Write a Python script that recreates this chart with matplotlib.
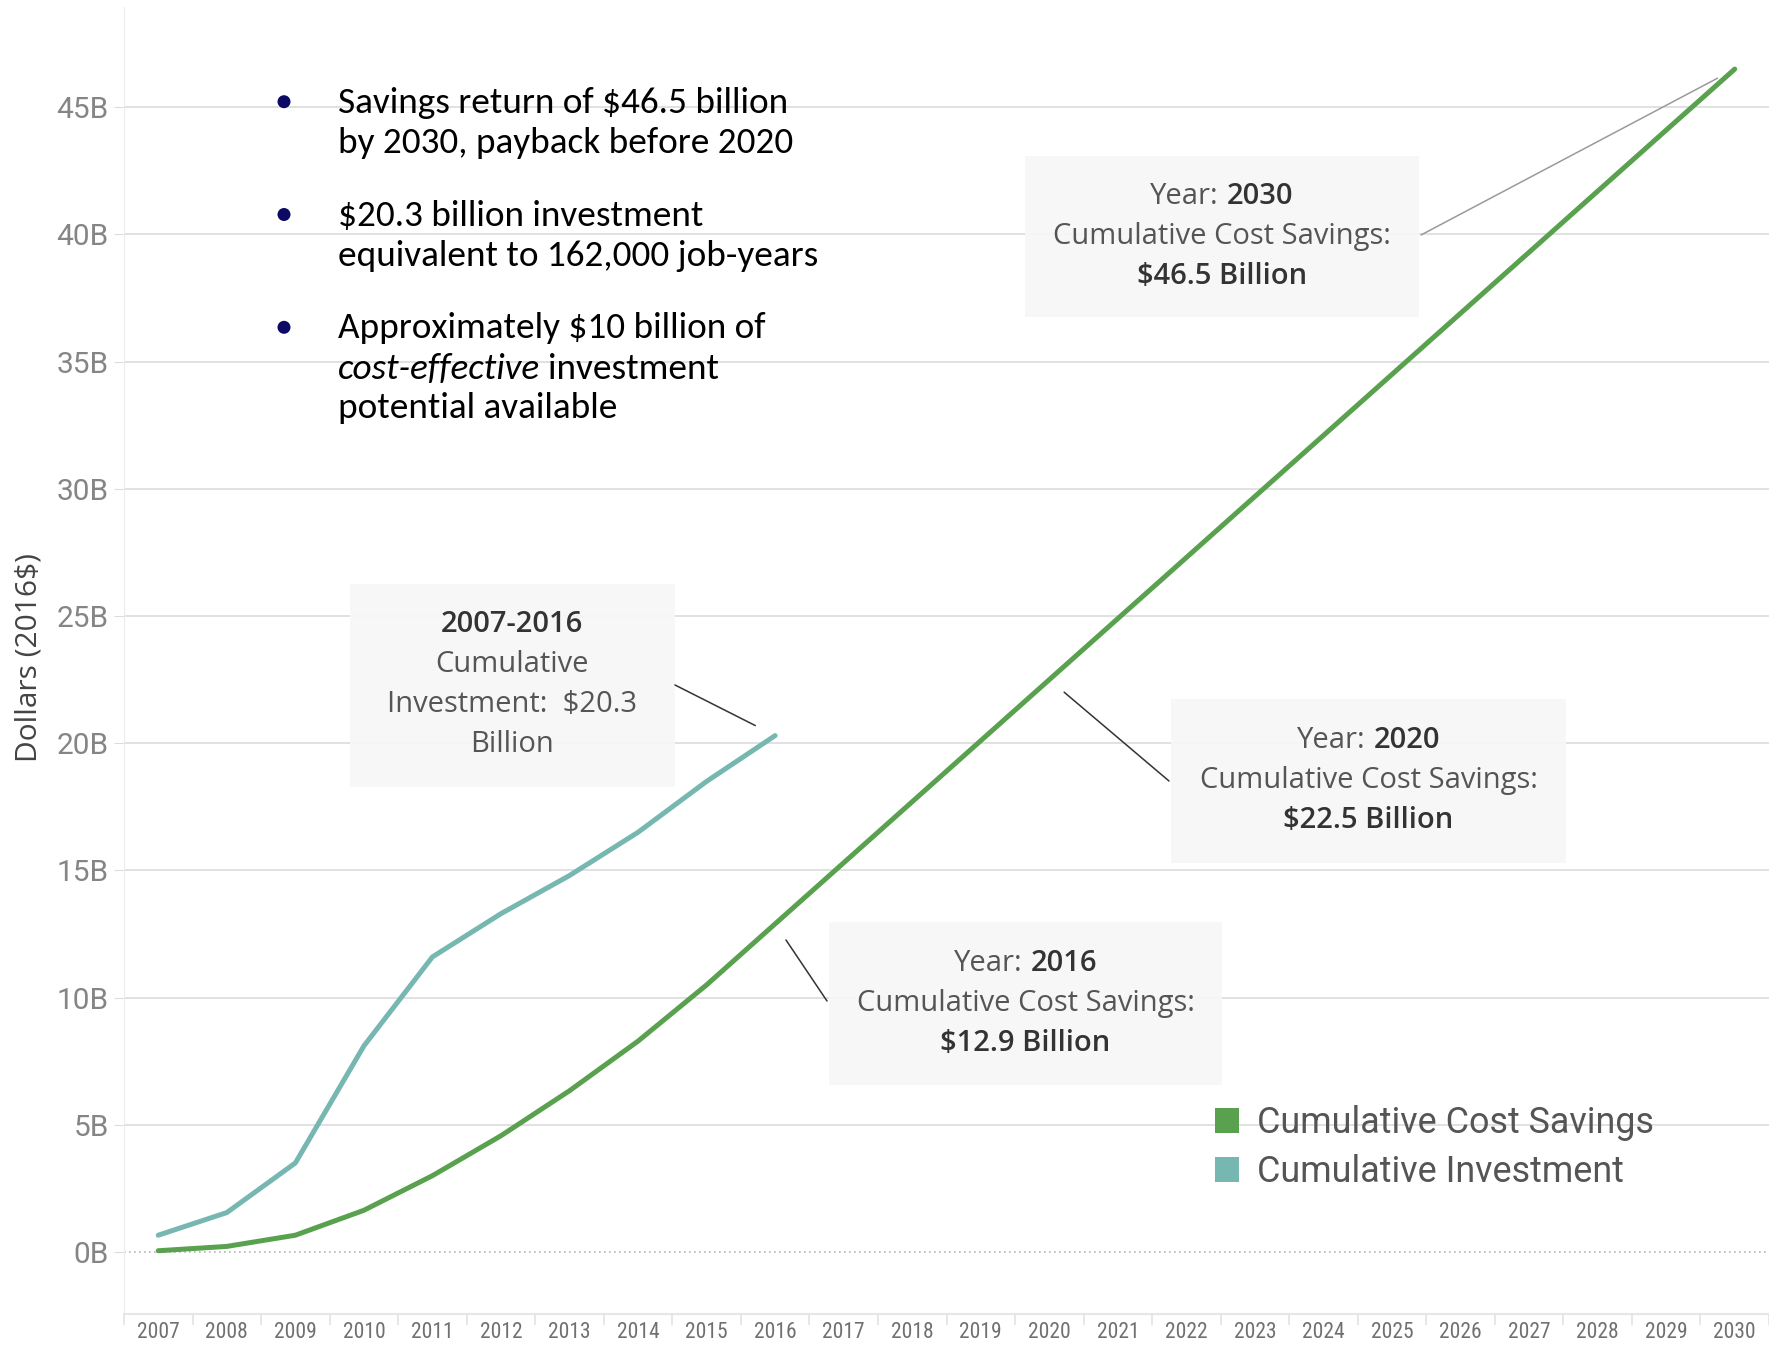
import matplotlib
matplotlib.use("Agg")
import matplotlib.pyplot as plt
from matplotlib.patches import Rectangle, Patch, Circle
from matplotlib.transforms import IdentityTransform

W, H = 1769, 1347
DPI = 100

years = list(range(2007, 2031))
cost_savings = [0.05, 0.22, 0.66, 1.64, 3.0, 4.57, 6.34, 8.29, 10.5, 12.9,
                15.3, 17.7, 20.1, 22.5, 24.9, 27.3, 29.7, 32.1, 34.5, 36.9,
                39.3, 41.7, 44.1, 46.5]
invest_years = list(range(2007, 2017))
investment = [0.66, 1.55, 3.5, 8.1, 11.6, 13.3, 14.8, 16.5, 18.5, 20.3]

y_ticks = list(range(0, 50, 5))
y_tick_labels = [f"{v}B" for v in y_ticks]
series_names = ["Cumulative Cost Savings", "Cumulative Investment"]
callout_years = [2016, 2020, 2030]

bullets = [
    ["Savings return of $46.5 billion", "by 2030, payback before 2020"],
    ["$20.3 billion investment", "equivalent to 162,000 job-years"],
    ["Approximately $10 billion of", None, "potential available"],
]

GREEN = "#59a14f"
TEAL = "#76b7b2"
BOX = ["Open Sans", "Noto Sans", "DejaVu Sans"]
NARROW = ["Roboto Condensed", "DejaVu Sans"]
PLAIN = ["Roboto", "DejaVu Sans"]
BODY = ["Carlito", "Lato", "DejaVu Sans"]


def fx(x):
    return x / W


def fy(y):
    return 1 - y / H


fig = plt.figure(figsize=(W / DPI, H / DPI), dpi=DPI)
ax = fig.add_axes([fx(124), fy(1314), (W - 124) / W, (1314 - 7) / H])

ax.plot(years, cost_savings, color=GREEN, lw=3.6, solid_capstyle="round", zorder=3)
ax.plot(invest_years, investment, color=TEAL, lw=3.6, solid_capstyle="round", zorder=3)

ax.set_xlim(2006.506, 2030.405)
ax.set_ylim(-2.437, 48.94)

for v in y_ticks[1:]:
    ax.axhline(v, color="#dcdcdc", lw=1.2, zorder=0)
ax.axhline(0, color="#b5b5b5", lw=1.2, ls=(0, (1, 2)), zorder=0)

ax.set_yticks(y_ticks)
ax.set_yticklabels(y_tick_labels, family=PLAIN, fontsize=21.5, color="#858585")
ax.tick_params(axis="y", length=7, color="#dcdcdc", pad=4)
ax.set_xticks(years)
ax.set_xticklabels([str(y) for y in years], family=NARROW, fontsize=15.5, color="#707070")
ax.set_xticks([y + 0.5 for y in [2006] + years], minor=True)
ax.tick_params(axis="x", which="major", length=0, pad=6)
ax.tick_params(axis="x", which="minor", length=8, color="#e3e3e3", width=1.2)

for side in ["top", "right"]:
    ax.spines[side].set_visible(False)
ax.spines["left"].set_color("#ececec")
ax.spines["bottom"].set_color("#e6e6e6")
ax.spines["bottom"].set_linewidth(1.5)

fig.text(fx(29), fy(658), "Dollars (2016$)", rotation=90, ha="center", va="center",
         family=BOX, fontsize=21.5, color="#444444")

renderer = fig.canvas.get_renderer()


def text_line(cx, cy, parts, size, family):
    gap = size * DPI / 72 * 0.28
    items = []
    for s, weight, color in parts:
        t = fig.text(0, fy(cy), s, fontsize=size, fontweight=weight, color=color,
                     family=family, va="center", ha="left")
        items.append(t)
    widths = [t.get_window_extent(renderer).width for t in items]
    x = cx - (sum(widths) + gap * (len(items) - 1)) / 2
    for t, w in zip(items, widths):
        t.set_x(fx(x))
        x += w + gap


def note_box(x0, y0, x1, y1):
    ax.add_patch(Rectangle((fx(x0), fy(y1)), (x1 - x0) / W, (y1 - y0) / H,
                           transform=fig.transFigure, facecolor="#f7f7f7",
                           edgecolor="none", alpha=0.92, zorder=2, clip_on=False))


def connector(xdata, ydata, x_px, y_px, color, shrink):
    ax.annotate("", xy=(xdata, ydata), xytext=(x_px, H - y_px),
                textcoords="figure pixels",
                arrowprops=dict(arrowstyle="-", color=color, lw=1.1,
                                shrinkA=0, shrinkB=shrink), zorder=2)


BOX_SIZE = 21

# investment total
note_box(350, 584, 675, 787)
text_line(512, 624, [("2007-2016", "semibold", "#333333")], BOX_SIZE, BOX)
text_line(512, 664, [("Cumulative", "normal", "#555555")], BOX_SIZE, BOX)
text_line(512, 704, [("Investment:  $20.3", "normal", "#555555")], BOX_SIZE, BOX)
text_line(512, 745, [("Billion", "normal", "#555555")], BOX_SIZE, BOX)
connector(invest_years[-1], investment[-1], 675, 685, "#333333", 16)

# savings callouts: box extent and connector start, in pixels
box_px = [(829, 922, 1222, 1085), (1171, 699, 1566, 863), (1025, 156, 1419, 317)]
line_px = [(827, 1001), (1169, 781), (1421, 235)]
line_colors = ["#333333", "#333333", "#9a9a9a"]
for year, (x0, y0, x1, y1), (lx, ly), lc in zip(callout_years, box_px, line_px, line_colors):
    val = cost_savings[years.index(year)]
    cx = (x0 + x1) / 2
    cy = (y0 + y1) / 2
    note_box(x0, y0, x1, y1)
    text_line(cx, cy - 40, [("Year:", "normal", "#555555"), (str(year), "semibold", "#333333")],
              BOX_SIZE, BOX)
    text_line(cx, cy, [("Cumulative Cost Savings:", "normal", "#555555")], BOX_SIZE, BOX)
    text_line(cx, cy + 40, [(f"${val} Billion", "semibold", "#333333")], BOX_SIZE, BOX)
    connector(year, val, lx, ly, lc, 14)

# bullet list
BULLET_SIZE = 26.8
line_y = [[102.7, 143.3], [215.5, 256.0], [328.3, 368.9, 408.4]]
for lines, ys in zip(bullets, line_y):
    fig.add_artist(Circle((284, H - ys[0] + 1), 6.5, transform=IdentityTransform(),
                          facecolor="#0b0b66", edgecolor="none"))
    for s, yy in zip(lines, ys):
        if s is not None:
            fig.text(fx(338), fy(yy), s, fontsize=BULLET_SIZE, family=BODY, color="black",
                     va="center")
        else:
            t = fig.text(fx(338), fy(yy), "cost-effective", fontsize=BULLET_SIZE, family=BODY,
                         style="italic", color="black", va="center")
            w = t.get_window_extent(renderer).width
            fig.text(fx(338 + w + 8), fy(yy), "investment", fontsize=BULLET_SIZE, family=BODY,
                     color="black", va="center")

handles = [Patch(facecolor=GREEN, edgecolor="none"), Patch(facecolor=TEAL, edgecolor="none")]
leg = ax.legend(handles, series_names, loc="upper left", bbox_to_anchor=(fx(1215), fy(1105)),
                bbox_transform=fig.transFigure, frameon=False, prop={"family": PLAIN, "size": 25.8},
                handlelength=0.68, handleheight=0.68, handletextpad=0.5, labelspacing=0.36,
                borderpad=0, borderaxespad=0)
for t in leg.get_texts():
    t.set_color("#555555")

fig.savefig("out.png", dpi=DPI, facecolor="white")
